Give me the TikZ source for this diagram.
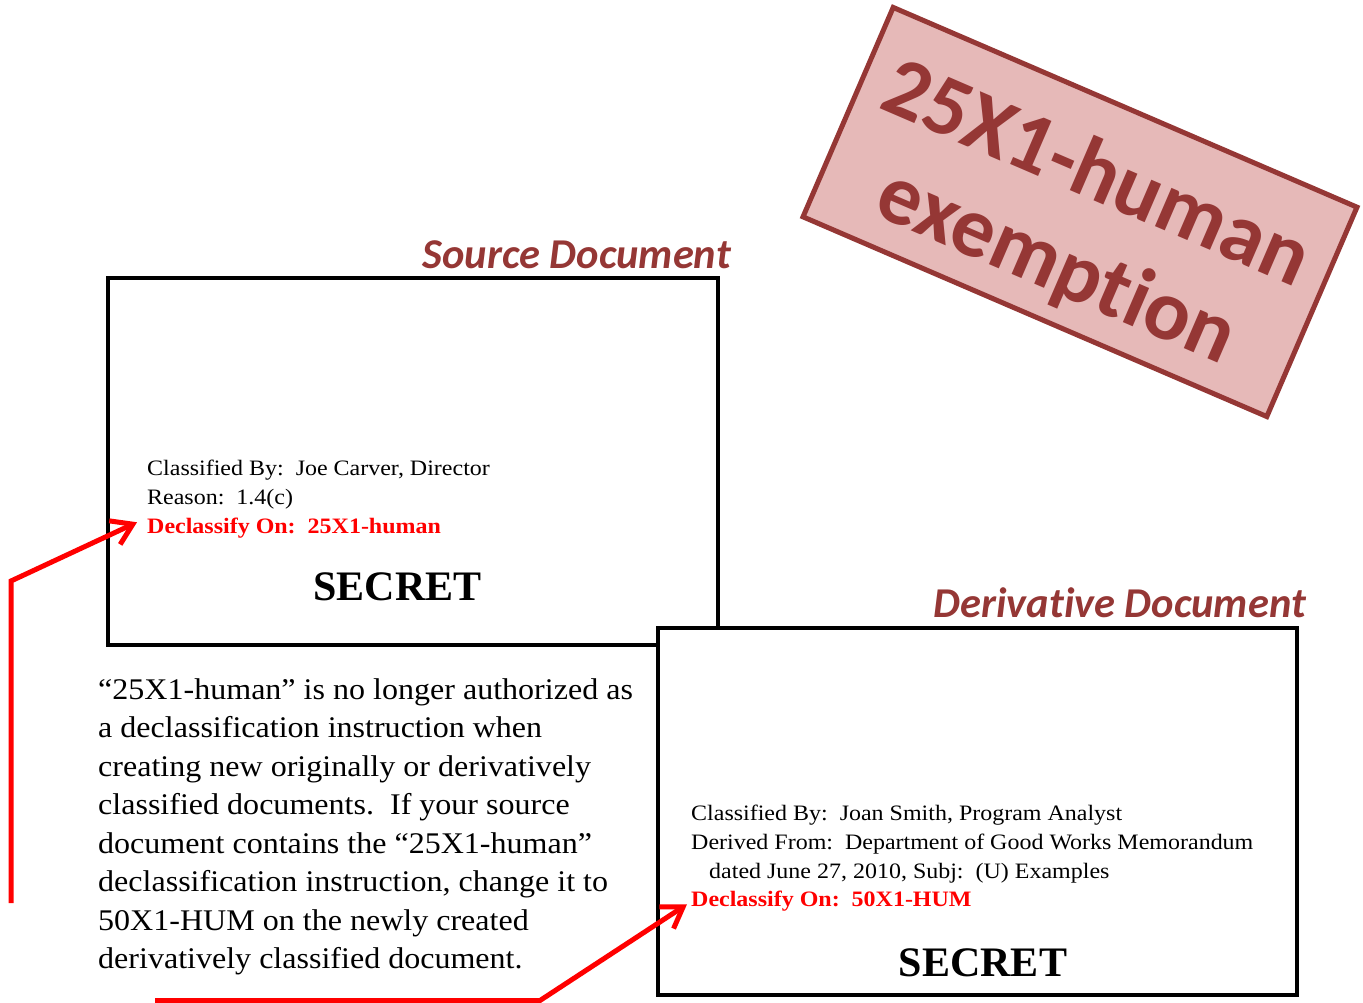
\documentclass[tikz,border=0pt]{standalone}
\usepackage{fontspec}
\setmainfont{Liberation Serif}
\newfontfamily\calib[Ligatures=NoCommon]{Carlito}
\newfontfamily\serifwideA[FakeStretch=1.09,Ligatures=TeX]{Liberation Serif}
\newfontfamily\serifwideB[FakeStretch=1.068,Ligatures=TeX]{Liberation Serif}
\usetikzlibrary{arrows.meta}
\definecolor{stampred}{HTML}{953735}
\definecolor{stampfill}{HTML}{E6B9B8}
\definecolor{arrred}{HTML}{FF0000}
\begin{document}
\begin{tikzpicture}[x=1pt,y=-1pt,
  doc/.style={draw=black, line width=4pt, fill=white, inner sep=0pt},
  small/.style={font=\serifwideA\fontsize{22}{29}\selectfont, inner sep=0pt, anchor=base west},
  redline/.style={small, font=\serifwideA\bfseries\fontsize{22}{29}\selectfont, text=arrred},
  secretlbl/.style={font=\bfseries\fontsize{42}{50}\selectfont, inner sep=0pt, anchor=base},
  doctitle/.style={font=\calib\bfseries\itshape\fontsize{42.5}{48}\selectfont, text=stampred, inner sep=0pt, anchor=base east},
  para/.style={font=\serifwideB\fontsize{30}{38.5}\selectfont, inner sep=0pt, align=left, anchor=north west},
  redarrow/.style={draw=arrred, line width=5pt, -{Straight Barb[length=20pt,width=26pt]}},
  stampbox/.style={draw=stampred, line width=5pt, fill=stampfill, minimum width=505pt, minimum height=228pt, rotate=-23.3},
  stamptext/.style={text=stampred, font=\calib\bfseries\fontsize{86}{100}\selectfont, align=center, inner sep=0pt, rotate=-23.3}
]
\useasboundingbox (0,0) rectangle (1363,1003);

% source document
\node[doc, minimum width=610pt, minimum height=367pt] (src) at (413,461.5) {};
\node[doctitle] (srctitle) at (731,269) {Source Document};
\node[small] (srcl1) at (147,475) {Classified By:\ \ Joe Carver, Director};
\node[small] (srcl2) at (147,504) {Reason:\ \ 1.4(c)};
\node[redline, inner xsep=10pt, text depth=0pt] (srcdecl) at (137,533) {Declassify On:\ \ 25X1-human};
\node[secretlbl] (srcsecret) at (397.5,600) {SECRET};

% derivative document
\node[doc, minimum width=639pt, minimum height=367pt] (der) at (977.5,811.5) {};
\node[doctitle] (dertitle) at (1306,617) {Derivative Document};
\node[small] (derl1) at (691,820) {Classified By:\ \ Joan Smith, Program Analyst};
\node[small] (derl2) at (691,849) {Derived From:\ \ Department of Good Works Memorandum};
\node[small] (derl3) at (709,878) {dated June 27, 2010, Subj:\ \ (U) Examples};
\node[redline, inner xsep=4pt, text depth=0pt] (derdecl) at (687,906) {Declassify On:\ \ 50X1-HUM};
\node[secretlbl] (dersecret) at (983,976) {SECRET};

% explanatory paragraph
\node[para] (expl) at (98,678) {“25X1-human” is no longer authorized as\\
a declassification instruction when\\
creating new originally or derivatively\\
classified documents.\ \ If your source\\
document contains the “25X1-human”\\
declassification instruction, change it to\\
50X1-HUM on the newly created\\
derivatively classified document.};

% stamp
\node[stampbox] (stamp) at (1080,212) {};
\node[stamptext] (stamplbl) at (1076,222) {25X1-human\\exemption};

% arrows
\coordinate (ltail) at (11,903);
\coordinate (lbend) at (11,581);
\draw[redarrow] (ltail) -- (lbend) -- ([yshift=3pt]srcdecl.west);
\coordinate (btail) at (155,1000.5);
\coordinate (bbend) at (540,1000.5);
\draw[redarrow] (btail) -- (bbend) -- ([yshift=-6pt]derdecl.west);
\end{tikzpicture}
\end{document}
